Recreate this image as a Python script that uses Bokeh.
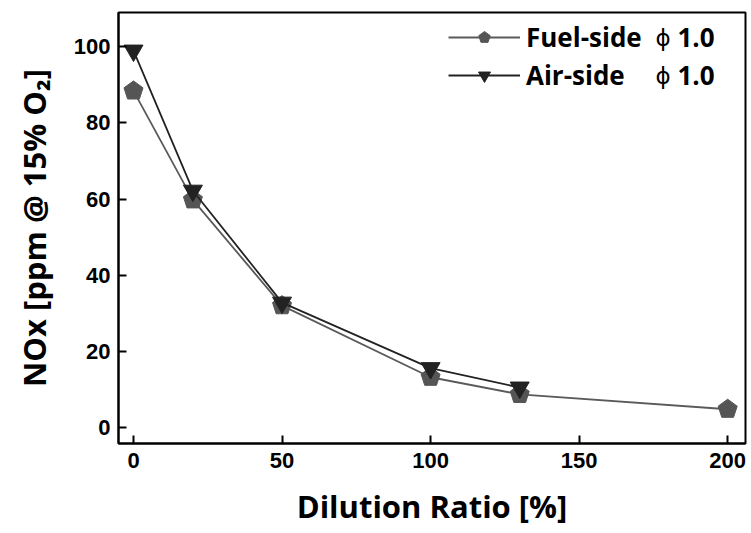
from bokeh.plotting import figure
from bokeh.models import ColumnDataSource, Range1d, Legend, LegendItem, Label
from bokeh.embed import file_html
from bokeh.resources import INLINE

fuel_x = [0, 20, 50, 100, 130, 200]
fuel_y = [88.4, 59.8, 32.0, 13.2, 8.7, 4.8]
air_x = [0, 20, 50, 100, 130]
air_y = [99.0, 62.2, 32.8, 15.6, 10.5]
x_ticks = [0, 50, 100, 150, 200]
y_ticks = [0, 20, 40, 60, 80, 100]

p = figure(width=751, height=533, output_backend="svg", toolbar_location=None,
           x_range=Range1d(-5.05, 206), y_range=Range1d(-4.2, 109))
p.min_border_left = 118
p.min_border_right = 6
p.min_border_top = 12
p.min_border_bottom = 90
p.background_fill_color = "white"
p.border_fill_color = "white"
p.grid.visible = False
p.outline_line_color = "black"
p.outline_line_width = 2

for ax in (p.xaxis[0], p.yaxis[0]):
    ax.major_tick_in = 8
    ax.major_tick_out = 0
    ax.minor_tick_in = 4
    ax.minor_tick_out = 0
    ax.axis_line_width = 2
    ax.major_tick_line_width = 2
    ax.minor_tick_line_width = 1.5
    ax.major_label_text_font = "Liberation Sans"
    ax.major_label_text_font_style = "bold"
    ax.major_label_text_font_size = "22px"
    ax.major_label_text_color = "black"
    ax.axis_label_text_font = "Open Sans"
    ax.axis_label_text_font_style = "bold"
    ax.axis_label_text_font_size = "31px"
    ax.axis_label_text_color = "black"

p.xaxis.ticker = x_ticks
p.xaxis[0].ticker.num_minor_ticks = 2
p.yaxis.ticker = y_ticks
p.yaxis[0].ticker.num_minor_ticks = 2
p.xaxis.axis_label = "Dilution Ratio [%]"
p.yaxis.axis_label = "NOx [ppm @ 15% O\u2082]"
p.xaxis.major_label_standoff = 9
p.xaxis.axis_label_standoff = 14
p.yaxis.major_label_standoff = 8
p.yaxis.axis_label_standoff = 16

fs = ColumnDataSource(dict(x=fuel_x, y=fuel_y))
as_ = ColumnDataSource(dict(x=air_x, y=air_y))

fl = p.line("x", "y", source=fs, line_color="#5a5a5a", line_width=1.8)
fm = p.ngon("x", "y", radius=10, radius_units="screen", n=5,
            source=fs, fill_color="#555555", line_color="#555555")
al = p.line("x", "y", source=as_, line_color="#222222", line_width=1.8)
am = p.scatter("x", "y", source=as_, marker="inverted_triangle", size=19,
               fill_color="#222222", line_color="#222222")

legend = Legend(items=[LegendItem(label="Fuel-side", renderers=[fl, fm]),
                       LegendItem(label="Air-side", renderers=[al, am])],
                location=(330, 350), border_line_color=None, background_fill_alpha=0,
                label_text_font="Open Sans", label_text_font_style="bold",
                label_text_font_size="26px", label_text_color="black",
                glyph_width=72, glyph_height=30, label_height=30,
                spacing=2, margin=0, padding=0, label_standoff=6)
p.add_layout(legend)

for yy in (406, 368):
    p.add_layout(Label(x=537, y=yy, x_units="screen", y_units="screen", text="\u03d5",
                       text_font="DejaVu Sans", text_font_size="23px",
                       text_color="black", text_baseline="middle"))
    p.add_layout(Label(x=559, y=yy, x_units="screen", y_units="screen", text="1.0",
                       text_font="Open Sans", text_font_style="bold", text_font_size="26px",
                       text_color="black", text_baseline="middle"))

open("out.html", "w").write(file_html(p, INLINE))
